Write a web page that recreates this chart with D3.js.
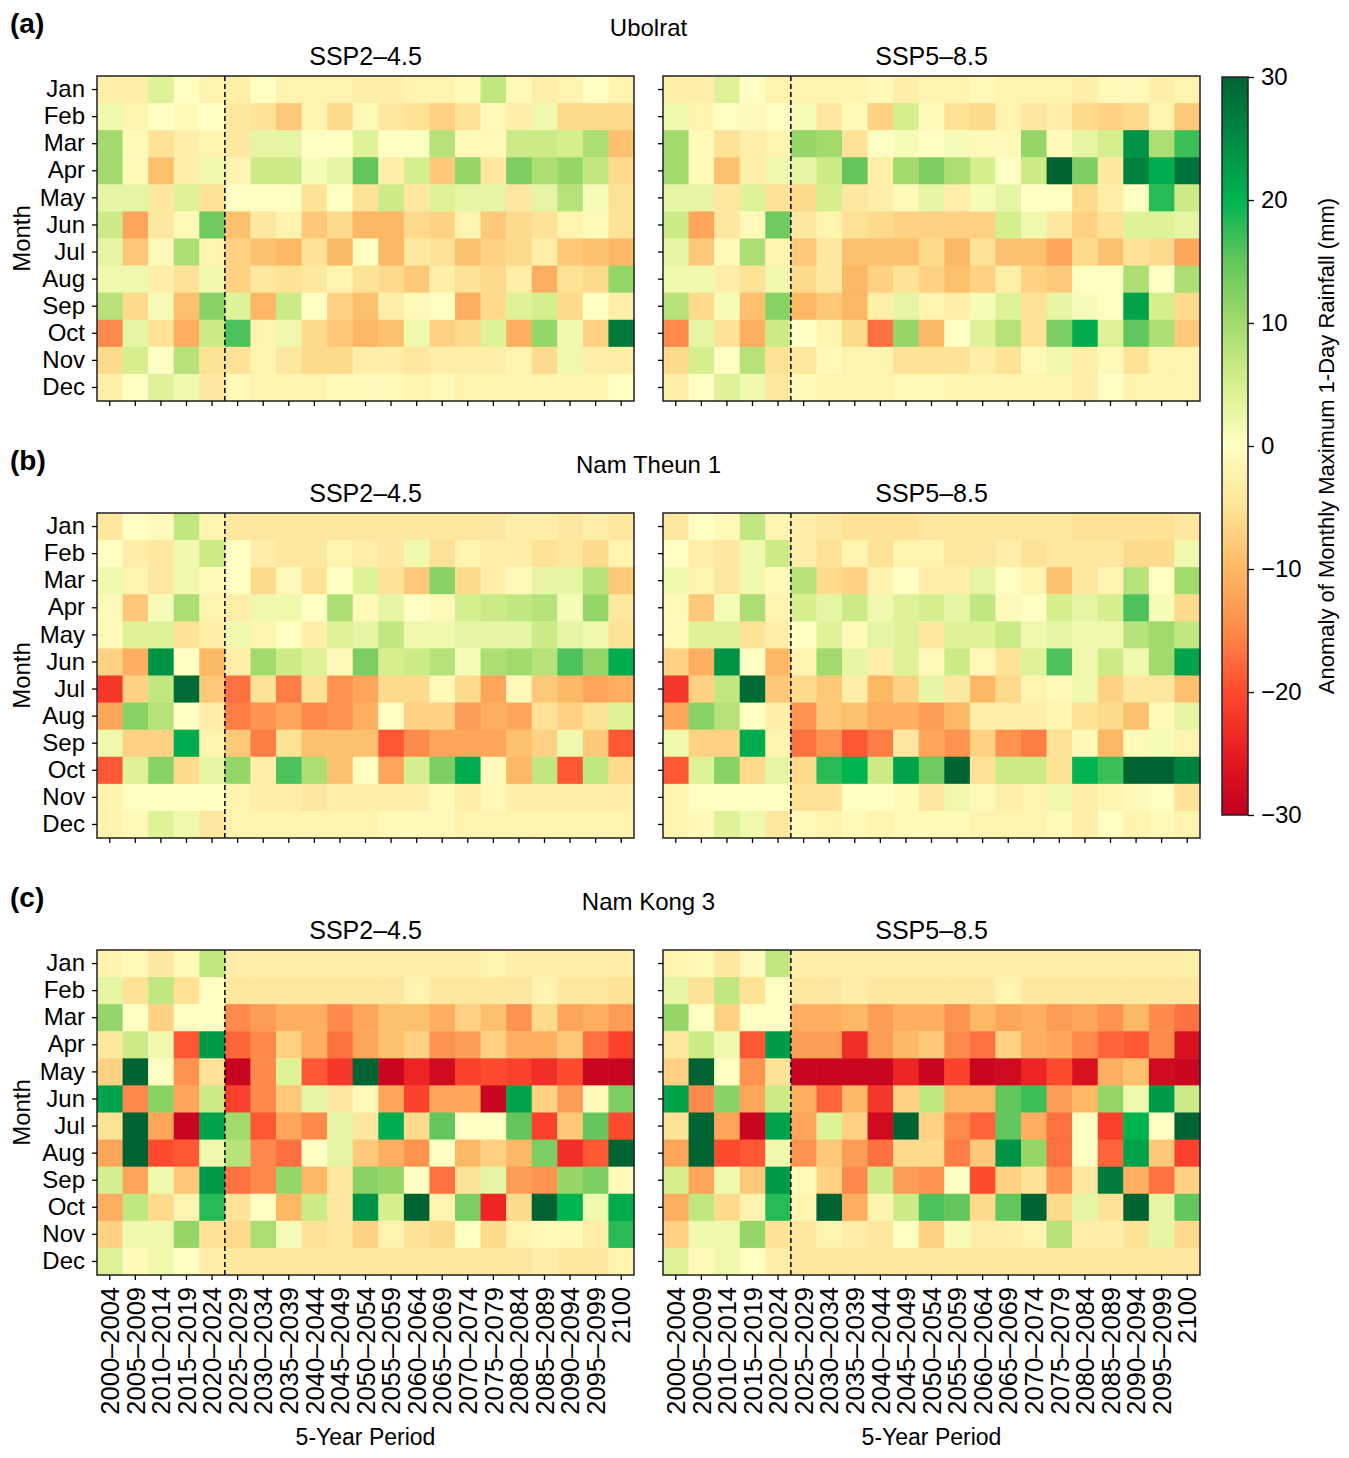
<!DOCTYPE html>
<html>
<head>
<meta charset="utf-8">
<script src="https://cdn.jsdelivr.net/npm/d3@7"></script>
<style>
    body { margin: 0; background: #fff; }
    text { font-family: "Liberation Sans", Arial, sans-serif; fill: #000; }
</style>
</head>
<body>
<div id="chart"></div>
<script>
const months = ["Jan", "Feb", "Mar", "Apr", "May", "Jun", "Jul", "Aug", "Sep", "Oct", "Nov", "Dec"];
const periods = ["2000–2004", "2005–2009", "2010–2014", "2015–2019", "2020–2024",
    "2025–2029", "2030–2034", "2035–2039", "2040–2044", "2045–2049", "2050–2054",
    "2055–2059", "2060–2064", "2065–2069", "2070–2074", "2075–2079", "2080–2084",
    "2085–2089", "2090–2094", "2095–2099", "2100"];
const basins = ["Ubolrat", "Nam Theun 1", "Nam Kong 3"];
const panelLetters = ["(a)", "(b)", "(c)"];
const scenarios = ["SSP2–4.5", "SSP5–8.5"];
const colorTicks = [-30, -20, -10, 0, 10, 20, 30];

// historical 2000-2024 (same in both scenarios), one row per month
const ubolratHist = [
    [-3, -3, 4, 0, -2], [2, -2, 0, -1, 0], [10, -1, -5, -3, -2], [10, -1, -9, -3, 2],
    [3, 3, -4, 4, -5], [6, -12, -4, -1, 14], [3, -8, -1, 9, -2], [2, 2, -3, -5, 2],
    [8, -6, 1, -9, 12], [-15, 3, -5, -11, 6], [-6, 5, 0, 8, -5], [-3, 0, 4, 2, -4]
];
const ubolratSsp245 = [
    [-3, 0, -2, -2, -2, -3, -3, -2, -2, -1, 7, -1, -3, -2, 0, -2],
    [-4, -5, -8, -2, -6, -1, -4, -5, -7, -5, -1, -3, 2, -6, -6, -6],
    [-4, 3, 3, 0, 0, 4, 0, 0, 8, -1, -1, 6, 6, 5, 9, -9],
    [-2, 6, 6, 1, 3, 15, -3, 5, -8, 11, -4, 13, 9, 11, 7, -6],
    [0, 0, 0, -5, 0, -5, 6, -4, 4, 3, 3, -4, 3, 8, 1, -5],
    [-9, -4, -2, -8, -6, -10, -10, -6, -7, -2, -8, -6, -5, -2, -1, -5],
    [-7, -9, -10, -5, -10, 0, -10, -4, -5, -9, -7, -6, -3, -8, -9, -10],
    [-7, -4, -5, -4, -2, -5, -6, -8, -3, -5, -6, -3, -11, -5, -6, 11],
    [4, -10, 6, 0, -7, -9, -3, -1, 0, -11, -6, 4, 5, -6, 0, -3],
    [16, -2, 2, -6, -8, -10, -9, 2, -7, -6, 4, -11, 11, 2, -7, 27],
    [-5, -2, -4, -6, -6, -3, -3, -4, -3, -3, -3, -2, -6, 2, -3, -3],
    [-1, -2, -2, -2, -1, -1, -1, -2, -1, -2, -2, -2, -2, -2, -2, 0]
];
const ubolratSsp585 = [
    [-2, -2, -2, -1, -3, -2, -2, -1, -2, -2, -2, -3, -1, -1, -3, -2],
    [1, -4, -1, -7, 5, -1, -5, -6, -2, -4, -3, -6, -7, -6, -2, -8],
    [11, 10, -5, 0, 1, 0, 1, -1, -1, 11, -1, 3, 5, 24, 9, 17],
    [3, 6, 15, -3, 10, 13, 9, 5, 0, 6, 30, 13, -4, 26, 21, 28],
    [-6, 5, -4, -3, -1, 3, -3, 1, 3, 0, 0, -6, -3, 0, 18, 6],
    [-4, -2, -5, -6, -7, -7, -7, -7, 5, 2, -4, -7, -5, 4, 4, 3],
    [-8, -4, -9, -9, -9, -6, -10, -5, -9, -9, -12, -6, -9, -5, -6, -12],
    [-6, -4, -10, -7, -5, -7, -9, -7, -3, -7, -8, 0, 0, 9, 0, 9],
    [-10, -8, -10, -3, 3, -2, -3, 1, 4, -5, 3, 1, 0, 22, 5, -6],
    [0, -2, -6, -17, 11, -10, 0, 4, 8, -5, 13, 21, 4, 15, 9, -8],
    [-4, -1, -2, -2, -5, -5, -5, -3, -5, -1, 2, -3, -1, -5, -2, -2],
    [-1, -2, -2, -2, -1, -1, -2, -2, -2, -2, -2, -3, 0, -2, -2, -2]
];

const namTheunHist = [
    [-4, 0, -1, 7, -2], [0, -3, -4, 2, 6], [2, -2, -4, 2, -1], [-1, -8, 1, 9, -2],
    [-1, 4, 4, -5, -3], [-7, -11, 24, 0, -10], [-22, -7, 7, 29, -8], [-12, 12, 8, 0, -3],
    [2, -7, -7, 21, -2], [-19, 4, 12, -6, 3], [-2, 0, 0, 0, 0], [-2, -1, 4, 2, -4]
];
const namTheunSsp245 = [
    [-4, -4, -4, -4, -4, -4, -4, -4, -4, -4, -4, -3, -3, -4, -3, -4],
    [0, -3, -4, -4, -2, -3, -4, 2, -5, -2, -3, -3, -5, -4, -6, -2],
    [0, -6, -1, -5, 0, 4, -5, -8, 12, -6, -3, -1, 3, 3, 8, -8],
    [-3, 2, 2, 0, 9, -1, 3, 0, -1, 5, 6, 7, 8, 1, 11, -4],
    [2, -2, 0, -3, 4, 3, 7, 2, 2, 3, 3, 3, 6, 3, 2, -5],
    [-3, 10, 6, 4, -1, 13, 5, 6, 8, 1, 9, 10, 8, 16, 11, 21],
    [-17, -5, -16, -5, -14, -12, -6, -6, -1, -6, -12, -1, -8, -10, -12, -11],
    [-16, -14, -12, -15, -14, -11, 0, -7, -7, -13, -11, -12, -5, -7, -5, 4],
    [-8, -16, -5, -9, -9, -9, -19, -15, -12, -12, -12, -9, -7, 2, -8, -19],
    [11, -3, 16, 9, -9, 0, -12, 5, 13, 21, -1, -10, 7, -19, 7, -6],
    [-2, -3, -3, -4, -3, -3, -3, -3, -1, -3, -1, -3, -3, -3, -3, -3],
    [-2, -2, -2, -2, -2, -2, -1, -1, -1, -2, -2, -2, -2, -2, -2, -2]
];
const namTheunSsp585 = [
    [-3, -4, -5, -5, -5, -4, -4, -4, -4, -4, -4, -5, -5, -5, -5, -4],
    [-3, -5, -2, -5, -2, -2, -4, -4, -3, -5, -4, -4, -4, -6, -6, 2],
    [8, -6, -7, -2, 0, -3, -3, 3, 0, -2, -9, -4, -2, 8, 0, 10],
    [5, 3, 6, 2, 4, 5, 3, 7, -1, 0, 5, 3, 5, 16, 1, -6],
    [0, 4, -1, 3, 4, -4, 4, 4, 6, 2, 3, 2, 2, 8, 10, 7],
    [-2, 10, 3, -3, 4, -1, 6, -1, -5, 4, 16, 2, 6, 2, 10, 22],
    [-6, -8, -3, -10, -7, 3, -4, -10, -6, -2, -1, 2, -7, -4, -4, -9],
    [-14, -8, -9, -11, -11, -13, -10, -3, -3, -3, -2, -5, -6, -9, -1, 3],
    [-17, -14, -19, -16, -4, -12, -14, -7, -14, -16, -5, -1, -10, -1, 1, -2],
    [-6, 18, 20, 6, 22, 14, 30, -5, 6, 6, -5, 20, 17, 30, 30, 26],
    [-5, -5, 0, 0, -1, -4, 2, -1, -3, -2, 2, -3, -2, -1, 0, -5],
    [-1, -2, -1, -2, -1, -1, -1, -2, -2, -2, -1, -3, 0, -2, -1, -2]
];

const namKongHist = [
    [-2, -1, -4, -1, 7], [3, -5, 7, -5, 0], [11, 0, -7, 0, 0], [-4, 6, 2, -19, 23],
    [-7, 30, 0, -14, -5], [22, -15, 12, -12, 6], [-5, 30, -12, -29, 22], [-12, 30, -20, -19, 2],
    [5, -12, 2, -8, 23], [-11, 7, -6, -2, 18], [-7, 2, 2, 11, -5], [4, -1, 2, 0, -3]
];
const namKongSsp245 = [
    [-3, -3, -3, -3, -3, -3, -3, -3, -3, -3, -2, -3, -3, -3, -3, -3],
    [-4, -4, -4, -4, -4, -4, -4, -2, -4, -4, -4, -4, -2, -4, -4, -5],
    [-15, -13, -11, -11, -15, -12, -9, -9, -11, -7, -9, -14, -6, -12, -11, -13],
    [-18, -15, -7, -11, -17, -12, -9, -7, -14, -13, -7, -11, -11, -8, -17, -21],
    [-29, -15, 4, -19, -22, 30, -29, -24, -28, -21, -20, -21, -23, -20, -29, -29],
    [-21, -15, -8, 3, -4, -1, -12, -21, -12, -12, -29, 22, -7, -13, -1, 13],
    [10, -19, -12, -15, 3, -4, 21, -6, 15, 0, 0, 15, -21, -8, 15, -20],
    [8, -15, -17, 0, 3, -8, -11, -14, 0, -10, -7, -10, 13, -23, -19, 30],
    [-17, -15, 11, -10, -4, 12, 11, 0, -17, -5, 3, -13, -14, 11, 13, -1],
    [-5, 0, -10, 6, -4, 24, 5, 30, -2, 13, -24, -6, 30, 20, 2, 21],
    [-6, 9, 1, -5, -4, -7, -2, -5, -6, 0, -6, -2, -1, -1, -3, 18],
    [-4, -4, -4, -4, -4, -4, -4, -4, -4, -4, -4, -4, -3, -4, -4, -2]
];
const namKongSsp585 = [
    [-3, -3, -3, -3, -3, -3, -3, -3, -3, -3, -3, -3, -3, -3, -3, -3],
    [-4, -4, -3, -4, -4, -4, -4, -4, -2, -4, -4, -4, -4, -4, -4, -4],
    [-11, -11, -10, -13, -11, -11, -14, -10, -12, -11, -13, -12, -14, -10, -15, -17],
    [-13, -13, -23, -13, -10, -8, -15, -17, -7, -11, -12, -15, -18, -19, -15, -27],
    [-29, -29, -29, -29, -24, -29, -21, -29, -28, -24, -20, -27, -11, -9, -28, -29],
    [-11, -18, -10, -22, -7, 7, -10, -10, 15, 17, -13, -10, 11, 2, 23, 6],
    [-12, 4, -7, -28, 30, -7, -15, -18, 15, -11, -17, 0, -21, 20, 0, 30],
    [-14, -8, -13, -17, -6, -6, -16, -8, 24, 11, -17, 0, -18, 22, -8, -21],
    [-1, -7, -15, 6, -13, -14, 0, -20, -7, -5, -14, -4, 27, -11, -17, -7],
    [-2, 30, -11, -2, 6, 16, 15, -6, 15, 30, -6, 3, -5, 30, 3, 15],
    [-4, -2, -3, -4, 0, -7, 1, -3, -3, -2, 8, -3, -3, -5, 3, -6],
    [-4, -4, -4, -4, -4, -4, -4, -4, -4, -4, -4, -4, -4, -4, -4, -4]
];

const basinData = [
    [ubolratHist, ubolratSsp245, ubolratSsp585],
    [namTheunHist, namTheunSsp245, namTheunSsp585],
    [namKongHist, namKongSsp245, namKongSsp585]
];

// layout
const width = 1349;
const height = 1458;
const panelX = [97, 663];
const panelTop = [76, 513, 950];
const panelW = 537;
const panelH = 325;
const fontSize = 24;

const svg = d3.select("#chart")
    .append("svg")
    .attr("width", width)
    .attr("height", height);

// colour scale sampled from the reference colorbar
const color = d3.scaleLinear()
    .domain([-30, -25, -20, -15, -10, -5, 0, 5, 10, 15, 20, 25, 30])
    .range(["#c0001e", "#e81c22", "#fe4a2e", "#fd8a4a", "#fdb864", "#fee396", "#fffec2",
        "#d6ef8e", "#a2da6c", "#62c65c", "#00b450", "#008a42", "#006432"])
    .clamp(true);

const x = d3.scaleBand().domain(periods).range([0, panelW]);
const y = d3.scaleBand().domain(months).range([0, panelH]);

function styleAxis(g) {
    g.select(".domain").remove();
    g.selectAll(".tick line").attr("stroke", "#000").attr("stroke-width", 1.3);
    g.selectAll(".tick text")
        .attr("font-size", fontSize)
        .attr("font-family", "Liberation Sans, Arial, sans-serif");
}

basins.forEach((basin, b) => {
    const top = panelTop[b];
    const [hist, ...futures] = basinData[b];

    svg.append("text")
        .attr("x", 10)
        .attr("y", top - 43)
        .attr("font-size", 28)
        .attr("font-weight", "bold")
        .text(panelLetters[b]);

    svg.append("text")
        .attr("x", (panelX[0] + panelX[1] + panelW) / 2)
        .attr("y", top - 40)
        .attr("text-anchor", "middle")
        .attr("font-size", fontSize)
        .text(basin);

    svg.append("text")
        .attr("transform", `translate(30, ${top + panelH / 2}) rotate(-90)`)
        .attr("text-anchor", "middle")
        .attr("font-size", fontSize)
        .text("Month");

    scenarios.forEach((scen, s) => {
        const g = svg.append("g")
            .attr("transform", `translate(${panelX[s]}, ${top})`);

        const cells = [];
        months.forEach((m, i) => {
            const row = hist[i].concat(futures[s][i]);
            row.forEach((v, j) => cells.push({ month: m, period: periods[j], value: v }));
        });

        g.selectAll("rect.cell")
            .data(cells)
            .enter()
            .append("rect")
            .attr("class", "cell")
            .attr("x", d => x(d.period))
            .attr("y", d => y(d.month))
            .attr("width", x.bandwidth() + 0.5)
            .attr("height", y.bandwidth() + 0.5)
            .attr("fill", d => color(d.value));

        // dashed divider between historical and projected periods
        const splitX = x(periods[5]);
        g.append("line")
            .attr("x1", splitX).attr("x2", splitX)
            .attr("y1", 0).attr("y2", panelH)
            .attr("stroke", "#000")
            .attr("stroke-width", 1.5)
            .attr("stroke-dasharray", "5,3");

        g.append("rect")
            .attr("width", panelW)
            .attr("height", panelH)
            .attr("fill", "none")
            .attr("stroke", "#222")
            .attr("stroke-width", 1.5);

        g.append("text")
            .attr("x", panelW / 2)
            .attr("y", -11)
            .attr("text-anchor", "middle")
            .attr("font-size", 25)
            .text(scen);

        const yAxis = d3.axisLeft(y).tickSize(5).tickPadding(7);
        if (s === 1) yAxis.tickFormat("");
        g.append("g").call(yAxis).call(styleAxis);

        const xAxis = d3.axisBottom(x).tickSize(5).tickPadding(7);
        if (b < 2) xAxis.tickFormat("");
        const xg = g.append("g")
            .attr("transform", `translate(0, ${panelH})`)
            .call(xAxis)
            .call(styleAxis);

        if (b === 2) {
            xg.selectAll(".tick text")
                .attr("transform", "rotate(-90)")
                .attr("x", -12)
                .attr("y", 0)
                .attr("dy", "0.36em")
                .attr("font-size", 25.5)
                .attr("text-anchor", "end");

            g.append("text")
                .attr("x", panelW / 2)
                .attr("y", panelH + 170)
                .attr("text-anchor", "middle")
                .attr("font-size", fontSize - 1)
                .text("5-Year Period");
        }
    });
});

// colorbar
const cbX = 1222, cbY = 77, cbW = 26, cbH = 738;
const cbScale = d3.scaleLinear().domain([-30, 30]).range([cbH, 0]);

const grad = svg.append("defs")
    .append("linearGradient")
    .attr("id", "cbgrad")
    .attr("x1", 0).attr("y1", 1).attr("x2", 0).attr("y2", 0);

d3.range(-30, 30.1, 2.5).forEach(v => {
    grad.append("stop")
        .attr("offset", (v + 30) / 60)
        .attr("stop-color", color(v));
});

const cb = svg.append("g").attr("transform", `translate(${cbX}, ${cbY})`);

cb.append("rect")
    .attr("width", cbW)
    .attr("height", cbH)
    .attr("fill", "url(#cbgrad)")
    .attr("stroke", "#222")
    .attr("stroke-width", 1.5);

cb.append("g")
    .attr("transform", `translate(${cbW}, 0)`)
    .call(d3.axisRight(cbScale).tickValues(colorTicks).tickSize(6).tickPadding(7))
    .call(styleAxis);

svg.append("text")
    .attr("transform", `translate(1334, ${cbY + cbH / 2}) rotate(-90)`)
    .attr("text-anchor", "middle")
    .attr("font-size", fontSize - 2)
    .text("Anomaly of Monthly Maximum 1-Day Rainfall (mm)");
</script>
</body>
</html>
